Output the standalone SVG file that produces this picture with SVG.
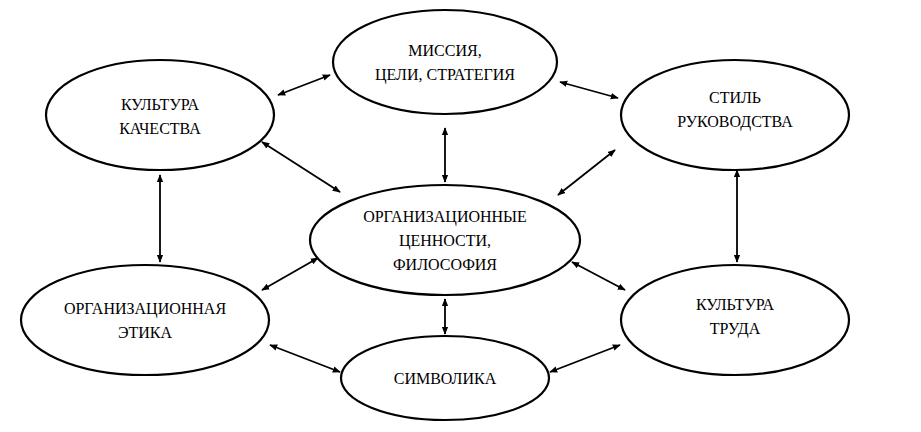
<svg xmlns="http://www.w3.org/2000/svg" width="921" height="432" viewBox="0 0 921 432">
<style>
ellipse{fill:#fff;stroke:#000;stroke-width:2.2}
text{font-family:"Liberation Serif",serif;font-size:16px;text-anchor:middle;fill:#000}
.c line{stroke:#000;stroke-width:1.8;marker-start:url(#a);marker-end:url(#a)}
</style>
<defs><marker id="a" viewBox="0 0 10 10" refX="9" refY="5" markerWidth="8" markerHeight="8" orient="auto-start-reverse" markerUnits="userSpaceOnUse"><path d="M0,1 L10,5 L0,9 Z" fill="#000"/></marker></defs>
<rect width="921" height="432" fill="#fff"/>
<g id="mission"><ellipse cx="445" cy="62" rx="112" ry="52"/><text x="445" y="56">МИССИЯ,</text><text x="445" y="80">ЦЕЛИ, СТРАТЕГИЯ</text></g>
<g id="quality"><ellipse cx="160" cy="115" rx="114" ry="55"/><text x="160" y="110">КУЛЬТУРА</text><text x="160" y="134">КАЧЕСТВА</text></g>
<g id="style"><ellipse cx="735" cy="115" rx="114" ry="55"/><text x="735" y="103">СТИЛЬ</text><text x="735" y="127">РУКОВОДСТВА</text></g>
<g id="values"><ellipse cx="445" cy="240" rx="135" ry="55"/><text x="445" y="222">ОРГАНИЗАЦИОННЫЕ</text><text x="445" y="246">ЦЕННОСТИ,</text><text x="445" y="270">ФИЛОСОФИЯ</text></g>
<g id="ethics"><ellipse cx="145" cy="320" rx="124" ry="55"/><text x="145" y="314">ОРГАНИЗАЦИОННАЯ</text><text x="145" y="338">ЭТИКА</text></g>
<g id="labor"><ellipse cx="735" cy="320" rx="114" ry="55"/><text x="735" y="310">КУЛЬТУРА</text><text x="735" y="334">ТРУДА</text></g>
<g id="symbol"><ellipse cx="445" cy="378" rx="104" ry="42"/><text x="445" y="384">СИМВОЛИКА</text></g>
<g class="c">
<line x1="278" y1="95" x2="330" y2="75"/>
<line x1="560" y1="82" x2="618" y2="98"/>
<line x1="445" y1="128" x2="445" y2="182"/>
<line x1="262" y1="142" x2="340" y2="192"/>
<line x1="615" y1="150" x2="558" y2="195"/>
<line x1="160" y1="175" x2="160" y2="262"/>
<line x1="737" y1="170" x2="737" y2="262"/>
<line x1="318" y1="258" x2="262" y2="290"/>
<line x1="572" y1="262" x2="625" y2="290"/>
<line x1="445" y1="299" x2="445" y2="334"/>
<line x1="270" y1="345" x2="340" y2="372"/>
<line x1="550" y1="372" x2="620" y2="345"/>
</g>
</svg>
